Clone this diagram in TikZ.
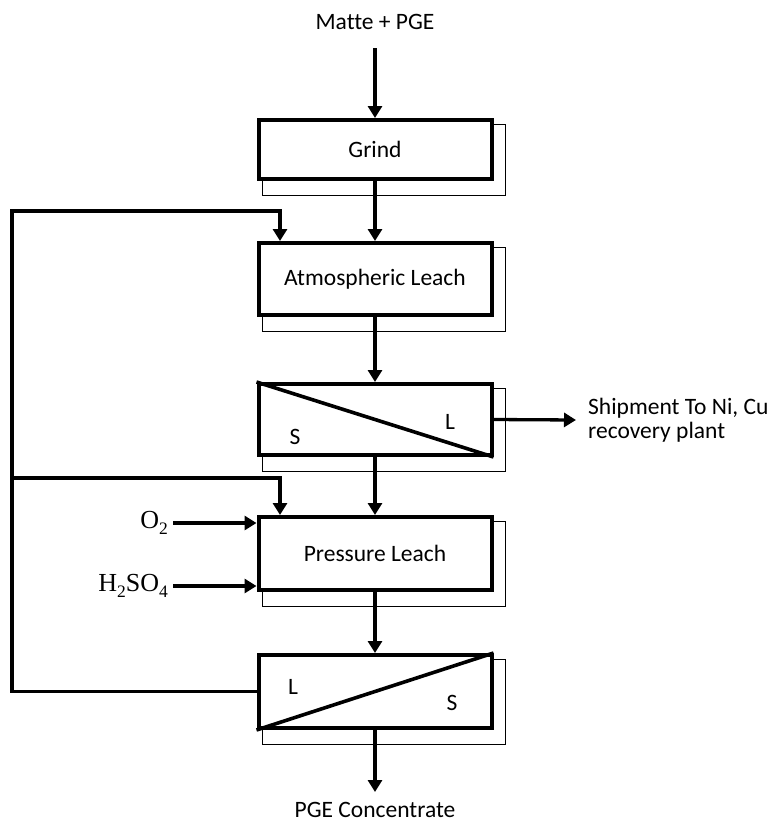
\documentclass[tikz,border=0pt]{standalone}
\usepackage{fontspec}
\setmainfont{Carlito}[Ligatures=NoCommon]
\newfontfamily\chemfont{Liberation Serif}
\usetikzlibrary{calc, arrows.meta, backgrounds}

% small lowered index for the reagent formulas
\newcommand{\chemsub}[1]{\raisebox{-0.22em}{\fontsize{17.5}{17.5}\selectfont #1}}

\begin{document}
\begin{tikzpicture}[
    x=1pt, y=-1pt,
    >={Triangle[length=12pt, width=14pt]},
    unit/.style={draw, fill=white, line width=4pt, minimum width=233pt, font=\fontsize{23.5}{27}\selectfont},
    flow/.style={->, line width=3.3pt},
    shadowline/.style={line width=1pt},
    splitline/.style={line width=3.6pt},
    txt/.style={font=\fontsize{23.5}{24}\selectfont, align=left},
    phase/.style={font=\fontsize{23.5}{27}\selectfont},
    chem/.style={font=\chemfont\fontsize{26}{30}\selectfont, anchor=east, inner xsep=5pt}
]
    \useasboundingbox (0,0) rectangle (770,825);

    % Process units
    \node[unit, minimum height=59pt] (grind) at (375,149.5) {Grind};
    \node[unit, minimum height=72pt] (atm)   at (375,279)   {Atmospheric Leach};
    \node[unit, minimum height=71pt] (sep1)  at (375,419.5) {};
    \node[unit, minimum height=73pt] (pl)    at (375,553.5) {Pressure Leach};
    \node[unit, minimum height=73pt] (sep2)  at (375,691.5) {};

    % Offset outlines behind the units
    \begin{pgfonlayer}{background}
        \foreach \n in {grind,atm,sep1,pl,sep2}
            \draw[shadowline] ($(\n.north west)+(6,6)$) rectangle ($(\n.south east)+(12,14)$);
    \end{pgfonlayer}

    % Solid/liquid separators
    \draw[splitline] (sep1.north west) -- (sep1.south east);
    \draw[splitline] (sep2.south west) -- (sep2.north east);
    \node[phase] (s1) at (295,437) {S};
    \node[phase] (l1) at (450,422) {L};
    \node[phase] (l2) at (293,687) {L};
    \node[phase] (s2) at (452,703) {S};

    % Feed, products and reagents
    \node[txt, anchor=south, inner ysep=18pt] (feed) at (375,48) {Matte + PGE};
    \node[txt, anchor=north, inner ysep=10pt] (conc) at (375,792) {PGE Concentrate};
    \node[txt, anchor=west, inner xsep=12pt] (ship) at (576,420) {Shipment To Ni, Cu\\recovery plant};
    \node[chem] (o2)  at (173,523) {O\chemsub{2}};
    \node[chem] (acid) at (173,586) {H\chemsub{2}SO\chemsub{4}};

    % Main flow
    \draw[flow] (feed) -- (grind);
    \draw[flow] (grind) -- (atm);
    \draw[flow] (atm) -- (sep1);
    \draw[flow] (sep1) -- (pl);
    \draw[flow] (pl) -- (sep2);
    \draw[flow] (sep2) -- (conc);
    \draw[flow] (sep1.east) -- (ship.west);
    \draw[flow] (o2.east) -- (o2.east -| pl.west);
    \draw[flow] (acid.east) -- (acid.east -| pl.west);

    % Liquor recycle
    \coordinate (loopA) at (12,211);
    \coordinate (loopB) at (12,478);
    \draw[flow] (sep2.west) -| (loopA) -| ([xshift=-95pt]atm.north);
    \draw[flow] (loopB) -| ([xshift=-95pt]pl.north);

\end{tikzpicture}
\end{document}
